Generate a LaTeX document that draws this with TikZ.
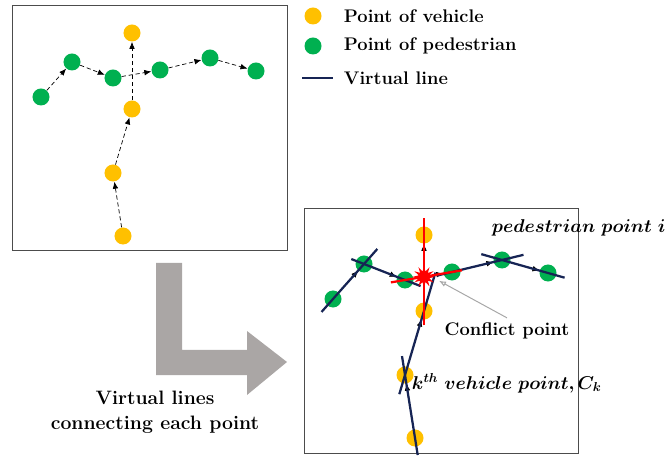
\RequirePackage{fix-cm}
\documentclass[tikz,border=0pt]{standalone}
\usepackage{bm}
\usetikzlibrary{calc,arrows.meta,shapes.geometric}
\definecolor{vehyellow}{RGB}{255,192,0}
\definecolor{pedgreen}{RGB}{0,176,80}
\definecolor{vnavy}{RGB}{22,36,84}
\definecolor{arrowgray}{RGB}{170,166,165}

\begin{document}
\begin{tikzpicture}[x=0.025cm,y=-0.025cm,
  veh/.style={circle,fill=vehyellow,inner sep=0,minimum size=0.425cm},
  ped/.style={circle,fill=pedgreen,inner sep=0,minimum size=0.425cm},
  track/.style={dash pattern=on 3pt off 2pt,-{Latex[length=5pt,width=4pt]},line width=0.5pt},
  vline/.style={vnavy,line width=1.6pt},
  cline/.style={red,line width=1.6pt},
  lbl/.style={font=\fontsize{13}{17.7}\selectfont\bfseries},
  mlbl/.style={font=\fontsize{13.2}{17}\selectfont,anchor=west}]
  \useasboundingbox (0,0) rectangle (671,458);
  \draw[black!70] (12,5) rectangle (287,250);
  \draw[black!70] (304,208) rectangle (578,453);
  \foreach \s/\dx/\dy in {a/0/0,b/292/202}{
    \foreach \n/\x/\y in {1/123/236,2/113/173,3/132/109,4/132/33}
      \node[veh] (\s v\n) at (\x+\dx,\y+\dy) {};
    \foreach \n/\x/\y in {1/41/97,2/72/62,3/113/78,4/160/70,5/210/58,6/256/71}
      \node[ped] (\s p\n) at (\x+\dx,\y+\dy) {};
    \foreach \i/\j in {v1/v2,v2/v3,v3/v4,p1/p2,p2/p3,p3/p4,p4/p5,p5/p6}
      \draw[track] (\s\i) -- (\s\j);
  }
  % virtual lines
  \foreach \i/\j/\ta/\tb in {p1/p2/-0.37/1.43,p2/p3/-0.31/1.38,p4/p5/-0.3/1.43,
      p5/p6/-0.45/1.36,v1/v2/-0.27/1.3,v2/v3/-0.3/1.6}
    \draw[vline] ($(b\i)!\ta!(b\j)$) -- ($(b\i)!\tb!(b\j)$);
  \draw[cline] ($(bp3)!-0.3!(bp4)$) -- ($(bp3)!1.21!(bp4)$);
  \draw[cline] ($(bv3)!-0.19!(bv4)$) -- ($(bv3)!1.22!(bv4)$);
  \coordinate (cf) at ($(bp3)!0.404!(bp4)$);
  \node[star,star points=12,star point ratio=2,fill=red,inner sep=0,
    minimum size=0.55cm] (burst) at (cf) {};
  \node[lbl] (cftxt) at (507,331) {Conflict point};
  \draw[black!35,line width=0.7pt,-{Latex[open,length=5pt,width=4pt]}]
    (cftxt.north) -- ($(cf)+(15,4)$);
  \node[mlbl] (pedtxt) at (487,228) {$\bm{pedestrian\ point\ i}$};
  \node[mlbl] (vehtxt) at (407,383) {$\bm{k^{th}\ vehicle\ point, C_k}$};
  % legend
  \node[veh] (lgv) at (313,16) {};
  \node[lbl,anchor=west] (lgvtxt) at (339,16) {Point of vehicle};
  \node[ped] (lgp) at (313,46) {};
  \node[lbl,anchor=west] (lgptxt) at (339,46) {Point of pedestrian};
  \coordinate (lgl1) at (302,78);
  \coordinate (lgl2) at (333,78);
  \draw[vline] (lgl1) -- (lgl2);
  \node[lbl,anchor=west] (lgltxt) at (339,78) {Virtual line};
  % L arrow
  \fill[arrowgray] (156,263) -- (182,263) -- (182,350) -- (247,350) -- (247,331)
    -- (287,362) -- (247,395) -- (247,375) -- (156,375) -- cycle;
  \node[lbl,font=\fontsize{13.8}{17.7}\selectfont\bfseries,align=center] (captxt)
    at (155,412) {Virtual lines\\connecting each point};
\end{tikzpicture}
\end{document}
